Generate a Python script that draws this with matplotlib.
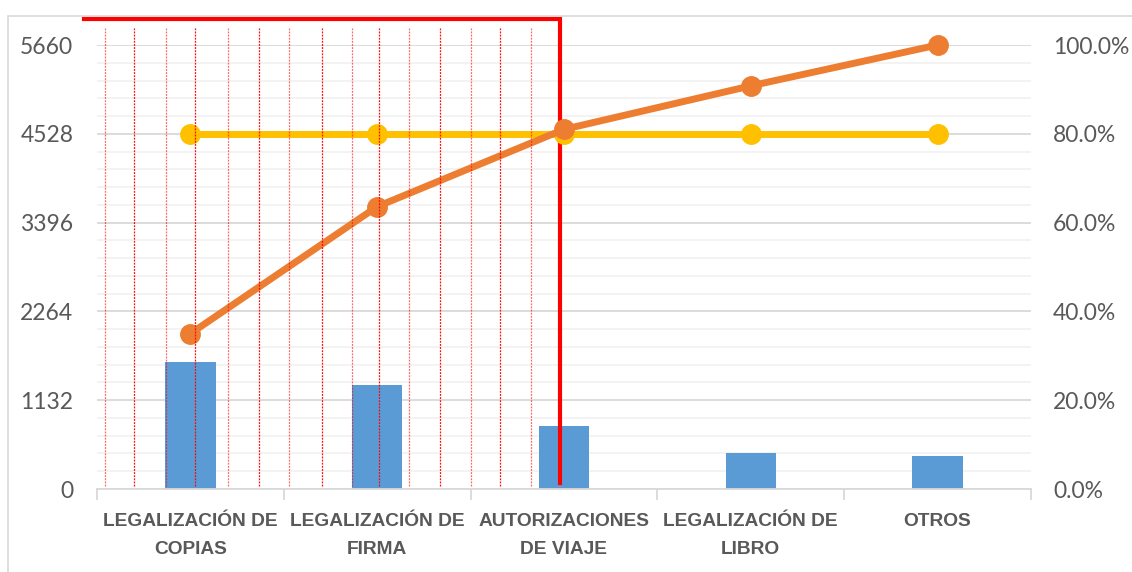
import matplotlib
matplotlib.use("Agg")
import matplotlib.pyplot as plt
from matplotlib.patches import Rectangle
import numpy as np

# datos del pareto
categorias = ["LEGALIZACIÓN DE\nCOPIAS", "LEGALIZACIÓN DE\nFIRMA",
              "AUTORIZACIONES\nDE VIAJE", "LEGALIZACIÓN DE\nLIBRO", "OTROS"]
cantidad = [1620, 1326, 803, 455, 425]
acumulado = [0.350, 0.636, 0.810, 0.908, 1.000]
limite_80 = [0.80, 0.80, 0.80, 0.80, 0.80]

ticks_izq = [0, 1132, 2264, 3396, 4528, 5660]
ticks_der = [0.0, 0.2, 0.4, 0.6, 0.8, 1.0]

# lineas rojas punteadas (posiciones en eje x de categorias)
lineas_rojas = [-0.455, -0.30, -0.128, 0.027, 0.203, 0.369, 0.53, 0.707,
                0.867, 1.012, 1.172, 1.338, 1.504, 1.66, 1.825]
corte_x = 1.98
inicio_x = -0.567

gris = "#595959"
plt.rcParams["font.family"] = ["Lato", "DejaVu Sans"]

fig = plt.figure(figsize=(11.32, 5.72), dpi=100)
fig.patches.append(Rectangle((8 / 1132, -0.1), 1.2, 1 - 16 / 572 + 0.1,
                             transform=fig.transFigure, fill=False,
                             edgecolor="#D9D9D9", linewidth=1.2))
ax = fig.add_axes([97 / 1132, 1 - 489 / 572, (1031 - 97) / 1132, (489 - 45) / 572])
ax2 = ax.twinx()

x = np.arange(len(categorias))
ax.bar(x, cantidad, width=0.27, color="#5B9BD5", zorder=2)
ax.set_xlim(-0.5, len(categorias) - 0.5)
ax.set_ylim(0, 5660)

# grilla
for v in np.arange(0, 5661, 1132 / 5):
    mayor = abs(v / 1132 - round(v / 1132)) < 1e-6
    ax.axhline(v, color="#D9D9D9" if mayor else "#F2F2F2",
               linewidth=1.3, zorder=0)

ax.set_yticks(ticks_izq)
ax.set_yticklabels([str(t) for t in ticks_izq])
ax.tick_params(axis="y", length=0, pad=17, labelsize=16.5, labelcolor=gris)
ax.set_xticks(x)
ax.set_xticklabels(categorias, fontweight="bold",
                   family=["Liberation Sans", "DejaVu Sans"])
ax.set_xticks(np.arange(-0.5, len(categorias)), minor=True)
ax.tick_params(axis="x", which="major", length=0, pad=17, labelsize=13.8,
               labelcolor=gris)
ax.tick_params(axis="x", which="minor", length=8, width=1.3, color="#D9D9D9")
for lbl in ax.get_xticklabels():
    lbl.set_linespacing(1.85)
for s in ["left", "right", "top"]:
    ax.spines[s].set_visible(False)
ax.spines["bottom"].set_color("#D9D9D9")
ax.spines["bottom"].set_linewidth(1.3)

# lineas porcentaje
ax2.plot(x, limite_80, color="#FFC000", linewidth=5, marker="o",
         markersize=14, zorder=3, clip_on=False)
ax2.plot(x, acumulado, color="#ED7D31", linewidth=5, marker="o",
         markersize=14, zorder=4, clip_on=False)
ax2.set_ylim(0, 1)
ax2.set_yticks(ticks_der)
ax2.set_yticklabels([f"{t * 100:.1f}%" for t in ticks_der])
ax2.tick_params(axis="y", length=0, pad=16, labelsize=16.5, labelcolor=gris)
for s in ["left", "right", "top", "bottom"]:
    ax2.spines[s].set_visible(False)

trans = ax2.get_xaxis_transform()
for i, lx in enumerate(lineas_rojas):
    ax2.plot([lx, lx], [0.007, 1.038], transform=trans, color="red",
             linestyle=(0, (1.5, 1)), linewidth=0.9,
             alpha=0.95 if i % 2 else 0.6, clip_on=False, zorder=5)
ax2.plot([inicio_x, corte_x, corte_x], [1.0586, 1.0586, 0.0135],
         transform=trans, color="red", linewidth=3, clip_on=False,
         solid_joinstyle="miter", zorder=2.5)

fig.savefig("out.png", dpi=100)
